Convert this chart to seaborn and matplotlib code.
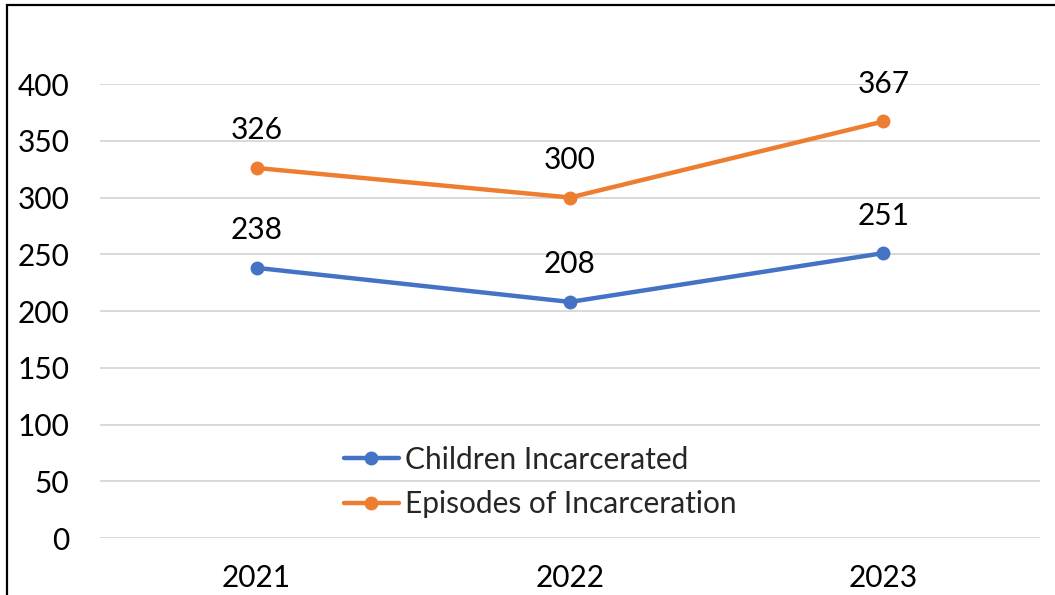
import matplotlib
matplotlib.use("Agg")
import matplotlib.pyplot as plt
from matplotlib.patches import Rectangle
import pandas as pd
import seaborn as sns

years = ["2021", "2022", "2023"]
children_incarcerated = [238, 208, 251]
episodes_of_incarceration = [326, 300, 367]
series_names = ["Children Incarcerated", "Episodes of Incarceration"]
y_ticks = [0, 50, 100, 150, 200, 250, 300, 350, 400]

colors = {"Children Incarcerated": "#4472C4", "Episodes of Incarceration": "#ED7D31"}

df = pd.DataFrame({
    "year": years * 2,
    "x": list(range(len(years))) * 2,
    "value": children_incarcerated + episodes_of_incarceration,
    "series": [series_names[0]] * len(years) + [series_names[1]] * len(years),
})

sns.set_theme(style="white")
plt.rcParams["font.family"] = ["Lato", "DejaVu Sans"]

FS = 21.5
W, H = 1055, 595
fig = plt.figure(figsize=(W / 100, H / 100), dpi=100)
ax = fig.add_axes([100 / W, 1 - 538 / H, 940 / W, (538 - 84) / H])

sns.lineplot(data=df, x="x", y="value", hue="series", hue_order=series_names,
             palette=colors, marker="o", markersize=10, markeredgewidth=0,
             linewidth=3.2, ax=ax, legend=True)

ax.set_xlim(-0.5, len(years) - 0.5)
ax.set_ylim(0, 400)
ax.set_yticks(y_ticks)
ax.set_xticks(range(len(years)))
ax.set_xticklabels(years)
ax.set_xlabel("")
ax.set_ylabel("")
ax.tick_params(axis="both", length=0, labelsize=FS, colors="black")
ax.tick_params(axis="y", pad=22)
ax.tick_params(axis="x", pad=19)
for s in ax.spines.values():
    s.set_visible(False)
ax.grid(axis="y", color="#D9D9D9", linewidth=1.4)
ax.set_axisbelow(True)

for name, vals in zip(series_names, [children_incarcerated, episodes_of_incarceration]):
    for i, v in enumerate(vals):
        ax.annotate(str(v), (i, v), xytext=(0, 27), textcoords="offset points",
                    ha="center", va="center", fontsize=FS, color="black",
                    annotation_clip=False)

leg = ax.legend(loc="center", bbox_to_anchor=(540 / W, 1 - 482 / H),
                bbox_transform=fig.transFigure, frameon=False, fontsize=FS,
                handlelength=1.85, handletextpad=0.2, labelspacing=0.55)
for h in leg.legend_handles:
    h.set_linewidth(3.2)
    h.set_markersize(10)

# outer chart border (left and top edges visible)
fig.patches.append(Rectangle((7 / W, -0.1), 1.2, 1 - 5 / H + 0.1,
                             transform=fig.transFigure, fill=False,
                             edgecolor="black", linewidth=1.6))

fig.savefig("out.png", dpi=100)
